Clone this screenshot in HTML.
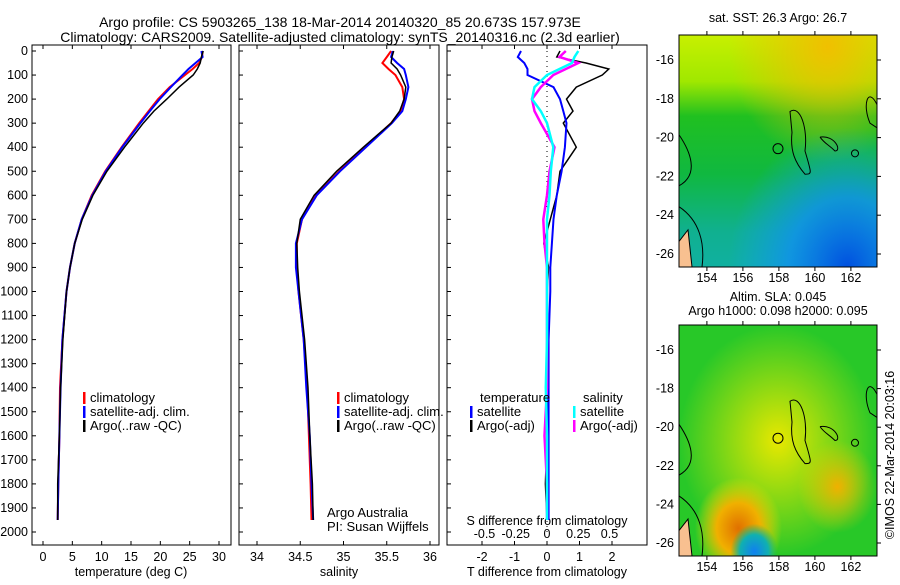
<!DOCTYPE html>
<html><head><meta charset="utf-8"><style>
body{margin:0;background:#fff;width:900px;height:580px;overflow:hidden;font-family:"Liberation Sans",sans-serif}
svg text{font-family:"Liberation Sans",sans-serif;font-size:12.5px;fill:#000}
svg text.big{font-size:14px}
svg text.leg{font-size:13px}
</style></head><body>
<svg id="c" width="900" height="580">
<defs>
<clipPath id="cp1"><rect x="32" y="45" width="199" height="500"/></clipPath>
<clipPath id="cp2"><rect x="239" y="45" width="200" height="500"/></clipPath>
<clipPath id="cp3"><rect x="447" y="45" width="200" height="500"/></clipPath>
<radialGradient id="g1a" cx="0.75" cy="0.05" r="0.5"><stop offset="0" stop-color="#f0c000"/><stop offset="1" stop-color="#f0c000" stop-opacity="0"/></radialGradient>
<radialGradient id="g1b" cx="0.85" cy="1" r="0.6"><stop offset="0" stop-color="#0050e0"/><stop offset="0.5" stop-color="#1090f0" stop-opacity="0.8"/><stop offset="1" stop-color="#10a0f0" stop-opacity="0"/></radialGradient>
<linearGradient id="g1c" x1="0" y1="0" x2="0" y2="1"><stop offset="0" stop-color="#c8f000"/><stop offset="0.2" stop-color="#a0e800"/><stop offset="0.35" stop-color="#20c020"/><stop offset="0.6" stop-color="#10b840"/><stop offset="0.85" stop-color="#10b090"/><stop offset="1" stop-color="#10b0a0"/></linearGradient>
<radialGradient id="g2a" cx="0.3" cy="0.88" r="0.22"><stop offset="0" stop-color="#e07000"/><stop offset="0.5" stop-color="#f0b000"/><stop offset="1" stop-color="#f0e000" stop-opacity="0"/></radialGradient>
<radialGradient id="g2b" cx="0.38" cy="0.98" r="0.12"><stop offset="0" stop-color="#1080f0"/><stop offset="0.6" stop-color="#10b0b0"/><stop offset="1" stop-color="#10c060" stop-opacity="0"/></radialGradient>
<radialGradient id="g2c" cx="0.5" cy="0.5" r="0.5"><stop offset="0" stop-color="#e8e800"/><stop offset="1" stop-color="#e8e800" stop-opacity="0"/></radialGradient>
<radialGradient id="g2d" cx="0.8" cy="0.7" r="0.2"><stop offset="0" stop-color="#f0b000"/><stop offset="1" stop-color="#f0d000" stop-opacity="0"/></radialGradient>
</defs>
<g id="p"></g>
</svg>
<script>
// shared depth grid
const depths=[0,25,50,75,100,150,200,250,300,400,500,600,700,800,900,1000,1200,1400,1600,1800,1950];
// temperature (deg C)
const tClim=[27.2,27.1,26.6,25.5,24.2,21.6,19.6,18.0,16.4,13.4,10.6,8.3,6.6,5.4,4.6,4.0,3.3,2.9,2.8,2.6,2.5];
const tSat =[27.0,27.2,26.0,24.8,23.8,21.8,19.9,18.2,16.6,13.5,10.7,8.4,6.6,5.4,4.6,4.0,3.3,3.0,2.8,2.6,2.5];
const tArgo=[27.3,27.0,26.8,26.3,25.6,23.2,21.1,18.9,17.1,13.9,10.9,8.5,6.7,5.4,4.6,4.0,3.4,3.0,2.8,2.5,2.5];
// salinity
const sClim=[35.55,35.5,35.45,35.52,35.60,35.68,35.70,35.66,35.55,35.25,34.95,34.68,34.52,34.46,34.46,34.48,34.54,34.58,34.60,34.62,34.63];
const sSat =[35.57,35.55,35.62,35.70,35.72,35.75,35.72,35.68,35.56,35.26,34.96,34.69,34.52,34.45,34.45,34.48,34.54,34.57,34.61,34.63,34.65];
const sArgo=[35.58,35.56,35.55,35.62,35.66,35.72,35.70,35.65,35.55,35.23,34.92,34.66,34.50,34.46,34.47,34.49,34.55,34.59,34.61,34.64,34.65];
// differences from climatology
const dTsat =[-0.8,-0.9,-0.7,-0.6,-0.6,0.2,0.4,0.5,0.6,0.55,0.45,0.3,0.2,0.15,0.1,0.1,0.05,0.05,0.05,0.05,0.05];
const dTargo=[0.4,0.3,1.2,1.9,1.7,0.9,0.6,0.8,0.5,0.9,0.4,0.3,0.1,-0.1,0.05,0.0,0.0,0.05,0.0,-0.05,0.0];
const dSsat =[0.25,0.22,0.2,0.1,0.0,-0.1,-0.12,-0.05,0.0,0.05,0.03,0.02,0.0,0.0,0.0,0.0,0.0,-0.01,0.0,0.0,0.0];
const dSargo=[0.15,0.1,0.25,0.15,0.05,-0.05,-0.12,-0.1,-0.05,0.06,0.02,0.0,-0.03,-0.02,0.0,0.0,0.0,0.0,-0.02,0.0,0.0];

const NS='http://www.w3.org/2000/svg';
const root=document.getElementById('p');
function el(t,a,par){const e=document.createElementNS(NS,t);for(const k in a)e.setAttribute(k,a[k]);(par||root).appendChild(e);return e;}
function txt(x,y,s,anchor,par){const e=el('text',{x:x,y:y,'text-anchor':anchor||'start'},par);e.textContent=s;return e;}
const yD=d=>51+d*0.2405;
const xT=v=>43+v*(176/30);
const xS=v=>257+(v-34)*86.5;
const xdT=v=>547+v*32.5;
const xdS=v=>547+v*125;

function frame(x,y,w,h,name){const r=el('rect',{x:x,y:y,width:w,height:h,fill:'none',stroke:'#000','stroke-width':1});}
function line(xs,xf,color,clip,name,w,dash){
  const pts=xs.map((v,i)=>xf(v).toFixed(1)+','+yD(depths[i]).toFixed(1)).join(' ');
  const p=el('polyline',{points:pts,fill:'none',stroke:color,'stroke-width':w||2,'clip-path':'url(#'+clip+')'});
  if(dash)p.setAttribute('stroke-dasharray',dash);
  
  
}
function yAxis(x0){for(let d=0;d<=2000;d+=100){el('line',{x1:x0,x2:x0+4,y1:yD(d),y2:yD(d),stroke:'#000'});}}

// titles
let t=txt(340,27,'Argo profile: CS 5903265_138 18-Mar-2014 20140320_85 20.673S 157.973E','middle');
t.setAttribute('class','big');

t=txt(340,42,'Climatology: CARS2009. Satellite-adjusted climatology: synTS_20140316.nc (2.3d earlier)','middle');
t.setAttribute('class','big');


// panel 1
frame(32,45,199,500,'temperature-panel');
const dlabels=[];for(let d=0;d<=2000;d+=100)dlabels.push(d);
dlabels.forEach(d=>{const e=txt(28,yD(d)+4,String(d),'end');});
yAxis(32);
const tTicks=[0,5,10,15,20,25,30];
tTicks.forEach(v=>{el('line',{x1:xT(v),x2:xT(v),y1:545,y2:541,stroke:'#000'});el('line',{x1:xT(v),x2:xT(v),y1:45,y2:49,stroke:'#000'});const e=txt(xT(v),561,String(v),'middle');});
t=txt(131,576,'temperature (deg C)','middle');
line(tClim,xT,'#f00','cp1','temperature-climatology-line');
line(tSat,xT,'#00f','cp1','temperature-satellite-line');
line(tArgo,xT,'#000','cp1','temperature-argo-line',1.5);

function legend(x,y,items,prefix){items.forEach((it,i)=>{el('rect',{x:x,y:y+i*14-10,width:2.5,height:12,fill:it[0]});const e=txt(x+7,y+i*14,it[1]);e.setAttribute('class','leg');});}
const legItems=[['#f00','climatology'],['#00f','satellite-adj. clim.'],['#000','Argo(..raw -QC)']];
legend(83,402,legItems,'temperature');

// panel 2
frame(239,45,200,500,'salinity-panel');
yAxis(239);
const sTicks=[34,34.5,35,35.5,36];
sTicks.forEach(v=>{el('line',{x1:xS(v),x2:xS(v),y1:545,y2:541,stroke:'#000'});el('line',{x1:xS(v),x2:xS(v),y1:45,y2:49,stroke:'#000'});const e=txt(xS(v),561,String(v),'middle');});
t=txt(339,576,'salinity','middle');
line(sClim,xS,'#f00','cp2','salinity-climatology-line');
line(sSat,xS,'#00f','cp2','salinity-satellite-line');
line(sArgo,xS,'#000','cp2','salinity-argo-line',1.5);
legend(337,402,legItems,'salinity');
t=txt(327,517,'Argo Australia');t.setAttribute('class','leg');
t=txt(327,531,'PI: Susan Wijffels');t.setAttribute('class','leg');

// panel 3
frame(447,45,200,500,'difference-panel');
yAxis(447);
el('line',{x1:547,x2:547,y1:51,y2:532,stroke:'#000','stroke-dasharray':'1,4'});
const dtTicks=[-2,-1,0,1,2];
dtTicks.forEach(v=>{el('line',{x1:xdT(v),x2:xdT(v),y1:545,y2:541,stroke:'#000'});el('line',{x1:xdT(v),x2:xdT(v),y1:45,y2:49,stroke:'#000'});const e=txt(xdT(v),561,String(v),'middle');});
const dsTicks=[-0.5,-0.25,0,0.25,0.5];
dsTicks.forEach(v=>{const e=txt(xdS(v),538,String(v),'middle');});
t=txt(547,525,'S difference from climatology','middle');
t=txt(547,576,'T difference from climatology','middle');
line(dTargo,xdT,'#000','cp3','t-diff-argo-line',1.5);
line(dTsat,xdT,'#00f','cp3','t-diff-satellite-line');
line(dSargo,xdS,'#f0f','cp3','s-diff-argo-line',2.5,'');
line(dSsat,xdS,'#0ff','cp3','s-diff-satellite-line',2.5);
t=txt(480,402,'temperature');t.setAttribute('class','leg');
t=txt(583,402,'salinity');t.setAttribute('class','leg');
legend(470,416,[['#00f','satellite'],['#000','Argo(-adj)']],'t-diff');
legend(573,416,[['#0ff','satellite'],['#f0f','Argo(-adj)']],'s-diff');

// maps
function map(y0,h,grads,name,yt16,yt26){
  const g=el('g',{});
  grads.forEach(f=>el('rect',{x:679,y:y0,width:198,height:h,fill:f},g));
  el('path',{d:`M679,${y0+h*0.89} L688,${y0+h*0.84} L692,${y0+h} L679,${y0+h} Z`,fill:'#f8c090',stroke:'#000'},g);
  el('path',{d:`M679,${y0+h*0.43} C690,${y0+h*0.5} 700,${y0+h*0.6} 679,${y0+h*0.65}`,fill:'none',stroke:'#000'},g);
  el('path',{d:`M679,${y0+h*0.74} C700,${y0+h*0.8} 705,${y0+h*0.9} 702,${y0+h}`,fill:'none',stroke:'#000'},g);
  el('path',{d:`M790,${y0+h*0.33} C800,${y0+h*0.3} 808,${y0+h*0.4} 805,${y0+h*0.5} C812,${y0+h*0.6} 812,${y0+h*0.6} 805,${y0+h*0.6} C795,${y0+h*0.55} 790,${y0+h*0.5} 792,${y0+h*0.42} Z`,fill:'none',stroke:'#000'},g);
  el('path',{d:`M820,${y0+h*0.44} C835,${y0+h*0.43} 842,${y0+h*0.5} 835,${y0+h*0.5} C828,${y0+h*0.47} 825,${y0+h*0.47} 820,${y0+h*0.44}`,fill:'none',stroke:'#000'},g);
  el('path',{d:`M877,${y0+h*0.3} C868,${y0+h*0.22} 862,${y0+h*0.3} 870,${y0+h*0.38} L877,${y0+h*0.4}`,fill:'none',stroke:'#000'},g);
  el('circle',{cx:778,cy:y0+h*0.49,r:5,fill:'none',stroke:'#000'},g);
  el('circle',{cx:855,cy:y0+h*0.51,r:3.5,fill:'none',stroke:'#000'},g);
  el('rect',{x:679,y:y0,width:198,height:h,fill:'none',stroke:'#000'},g);
  const lons=[154,156,158,160,162];
  lons.forEach(v=>{const x=679+(v-152.45)*18.0;el('line',{x1:x,x2:x,y1:y0,y2:y0-4,stroke:'#000'});el('line',{x1:x,x2:x,y1:y0+h,y2:y0+h+4,stroke:'#000'});const e=txt(x,y0+h+15,String(v),'middle');});
  const lats=[-16,-18,-20,-22,-24,-26];
  lats.forEach(v=>{const y=yt16+(v+16)/-10*(yt26-yt16);el('line',{x1:877,x2:881,y1:y,y2:y,stroke:'#000'});const e=txt(674,y+4,String(v),'end');});
}
map(35,232,['url(#g1c)','url(#g1a)','url(#g1b)'],'sst-map',60,254);
t=txt(778,22,'sat. SST: 26.3 Argo: 26.7','middle');
map(325,231,['#28c828','url(#g2c)','url(#g2a)','url(#g2d)','url(#g2b)'],'sla-map',350,543);
t=txt(778,301,'Altim. SLA: 0.045','middle');
t=txt(778,315,'Argo h1000: 0.098 h2000: 0.095','middle');
t=txt(0,0,'©IMOS 22-Mar-2014 20:03:16','middle');t.setAttribute('transform','translate(894,455) rotate(-90)');

</script>
</body></html>
